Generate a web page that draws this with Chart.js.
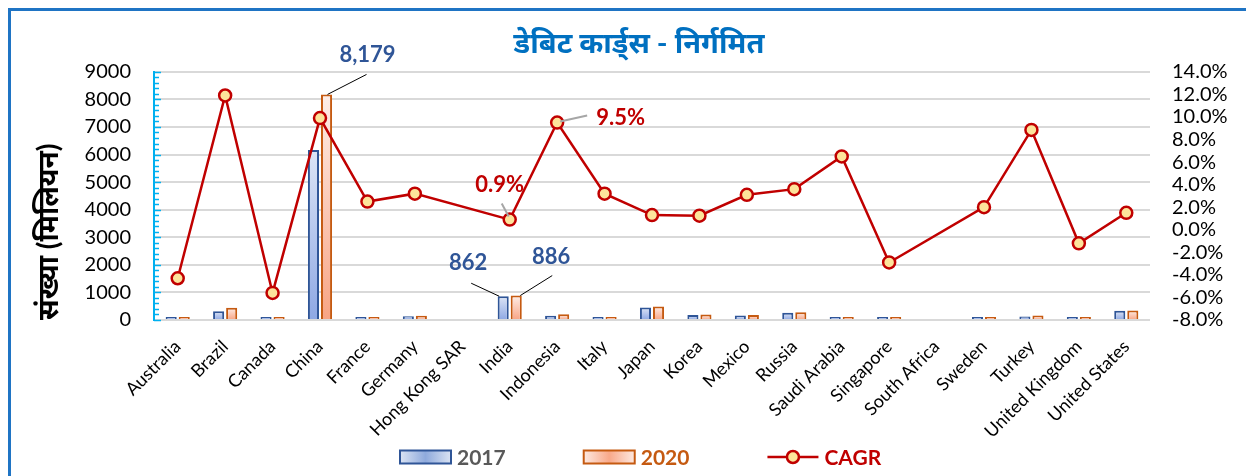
<!DOCTYPE html>
<html>
<head>
<meta charset="utf-8">
<script src="https://cdn.jsdelivr.net/npm/chart.js@4.4.0/dist/chart.umd.min.js"></script>
<style>
  html, body { margin: 0; padding: 0; background: #fff; }
  #wrap { position: relative; width: 1246px; height: 476px; overflow: hidden; }
  #frame {
    position: absolute; left: 8px; top: 8px; width: 1300px; height: 500px;
    border-left: 3px solid #1f74c4; border-top: 3px solid #1f74c4;
  }
  canvas { position: absolute; left: 0; top: 0; }
</style>
</head>
<body>
<div id="wrap">
  <div id="frame"></div>
  <canvas id="chart" width="1246" height="476"></canvas>
</div>
<script>
// data
const countries = ["Australia", "Brazil", "Canada", "China", "France", "Germany",
  "Hong Kong SAR", "India", "Indonesia", "Italy", "Japan", "Korea", "Mexico",
  "Russia", "Saudi Arabia", "Singapore", "South Africa", "Sweden", "Turkey",
  "United Kingdom", "United States"];
const cards2017 = [49, 321, 25, 6160, 62, 136, null, 862, 152, 74, 457, 185, 160,
  259, 45, 35, null, 35, 123, 111, 333];
const cards2020 = [40, 444, 25, 8179, 65, 150, null, 886, 205, 86, 494, 198, 185,
  284, 45, 35, null, 35, 160, 111, 346];
const cagr = [-4.3, 11.9, -5.6, 9.9, 2.5, 3.2, null, 0.9, 9.5, 3.2, 1.3, 1.25, 3.1,
  3.6, 6.5, -2.9, null, 2.0, 8.85, -1.2, 1.5];
const countTicks = { min: 0, max: 9000, step: 1000 };
const cagrTicks = { min: -8, max: 14, step: 2 };

const FONT = "Lato, 'Noto Sans', 'Noto Sans Devanagari', 'Lohit Devanagari', FreeSans, sans-serif";
Chart.defaults.font.family = FONT;

const fmtCount = (v) => v.toLocaleString("en-US");
const fmtPct = (v) => v.toFixed(1) + "%";

// vertical gradient per bar, light at the top
function barFill(light, dark) {
  return (c) => {
    const chart = c.chart;
    if (!chart.chartArea || c.type !== "data" || c.raw == null) return dark;
    const y = chart.scales.y;
    const top = Math.min(y.getPixelForValue(c.raw), y.getPixelForValue(0) - 5);
    const bottom = y.getPixelForValue(0);
    const g = chart.ctx.createLinearGradient(0, top, 0, bottom);
    g.addColorStop(0, light);
    g.addColorStop(1, dark);
    return g;
  };
}

// callouts: which mark, and how the label sits next to it
const callouts = [
  { ds: 1, i: 3, text: fmtCount(cards2020[3]), color: "#2f5597", line: "#000", lw: 1, from: [1, 0], to: [40, -20], at: [41, -40], align: "center" },
  { ds: 0, i: 7, text: fmtCount(cards2017[7]), color: "#2f5597", line: "#000", lw: 1, from: [-4, 0], to: [-32, -13], at: [-35, -33], align: "center" },
  { ds: 1, i: 7, text: fmtCount(cards2020[7]), color: "#2f5597", line: "#000", lw: 1, from: [4, 0], to: [36, -20], at: [35, -39], align: "center" },
  { ds: 2, i: 7, text: fmtPct(cagr[7]), color: "#c00000", line: "#a6a6a6", lw: 2, from: [-1, -3], to: [-8, -16], at: [-10, -35], align: "center" },
  { ds: 2, i: 8, text: fmtPct(cagr[8]), color: "#c00000", line: "#a6a6a6", lw: 2, from: [3, -1], to: [30, -7], at: [39, -5], align: "left" },
];

const calloutPlugin = {
  id: "callouts",
  afterDatasetsDraw(chart) {
    const ctx = chart.ctx;
    ctx.save();
    callouts.forEach((c) => {
      const el = chart.getDatasetMeta(c.ds).data[c.i];
      if (!el) return;
      ctx.strokeStyle = c.line;
      ctx.lineWidth = c.lw;
      ctx.beginPath();
      ctx.moveTo(el.x + c.from[0], el.y + c.from[1]);
      ctx.lineTo(el.x + c.to[0], el.y + c.to[1]);
      ctx.stroke();
      ctx.fillStyle = c.color;
      ctx.font = "bold 22px " + FONT;
      ctx.textAlign = c.align;
      ctx.textBaseline = "middle";
      ctx.fillText(c.text, el.x + c.at[0], el.y + c.at[1]);
    });
    ctx.restore();
  },
};

// small cyan tick marks along the left axis
const minorTicks = {
  id: "minorTicks",
  afterDraw(chart) {
    const y = chart.scales.y;
    const ctx = chart.ctx;
    const left = chart.chartArea.left;
    ctx.save();
    ctx.strokeStyle = "#00b0f0";
    ctx.lineWidth = 1.5;
    for (let v = countTicks.min; v <= countTicks.max; v += countTicks.step / 5) {
      const py = Math.round(y.getPixelForValue(v)) + 0.5;
      ctx.beginPath();
      ctx.moveTo(left, py);
      ctx.lineTo(left + (v % countTicks.step === 0 ? 7 : 5), py);
      ctx.stroke();
    }
    ctx.restore();
  },
};

// legend drawn under the x labels
const legendStyle = { x: 400, y: 457, box: 51, boxH: 13, gap: 6, spacing: 78 };
const legendPlugin = {
  id: "bottomLegend",
  afterDraw(chart) {
    const ctx = chart.ctx;
    const s = legendStyle;
    const items = [
      { ds: 0, kind: "bar", mid: "#8faadc", edge: "#dae3f3", textColor: "#595959" },
      { ds: 1, kind: "bar", mid: "#f8a98a", edge: "#fde9e1", textColor: "#c55a11" },
      { ds: 2, kind: "line", textColor: "#c00000" },
    ];
    let x = s.x;
    ctx.save();
    ctx.font = "bold 21px " + FONT;
    ctx.textBaseline = "middle";
    ctx.textAlign = "left";
    items.forEach((it) => {
      const d = chart.data.datasets[it.ds];
      if (it.kind === "bar") {
        const g = ctx.createLinearGradient(x, 0, x + s.box, 0);
        g.addColorStop(0, it.edge);
        g.addColorStop(0.5, it.mid);
        g.addColorStop(1, it.edge);
        ctx.fillStyle = g;
        ctx.fillRect(x, s.y - s.boxH / 2, s.box, s.boxH);
        ctx.strokeStyle = d.borderColor;
        ctx.lineWidth = 2;
        ctx.strokeRect(x, s.y - s.boxH / 2, s.box, s.boxH);
      } else {
        ctx.strokeStyle = d.borderColor;
        ctx.lineWidth = d.borderWidth;
        ctx.beginPath();
        ctx.moveTo(x, s.y);
        ctx.lineTo(x + s.box, s.y);
        ctx.stroke();
        ctx.beginPath();
        ctx.arc(x + s.box / 2, s.y, d.pointRadius, 0, Math.PI * 2);
        ctx.fillStyle = d.pointBackgroundColor;
        ctx.fill();
        ctx.lineWidth = d.pointBorderWidth;
        ctx.strokeStyle = d.pointBorderColor;
        ctx.stroke();
      }
      x += s.box + s.gap;
      ctx.fillStyle = it.textColor;
      ctx.fillText(d.label, x, s.y + 1);
      x += ctx.measureText(d.label).width + s.spacing;
    });
    ctx.restore();
  },
};

new Chart(document.getElementById("chart"), {
  type: "bar",
  data: {
    labels: countries,
    datasets: [
      {
        label: "2017",
        data: cards2017,
        yAxisID: "y",
        backgroundColor: barFill("#dde5f6", "#8ea8e4"),
        borderColor: "#2f5597",
        borderWidth: 2,
        minBarLength: 3,
        categoryPercentage: 0.55,
        barPercentage: 0.85,
        order: 1,
      },
      {
        label: "2020",
        data: cards2020,
        yAxisID: "y",
        backgroundColor: barFill("#feeee8", "#f8a484"),
        borderColor: "#c55a11",
        borderWidth: 2,
        minBarLength: 3,
        categoryPercentage: 0.55,
        barPercentage: 0.85,
        order: 1,
      },
      {
        type: "line",
        label: "CAGR",
        data: cagr,
        yAxisID: "yR",
        borderColor: "#c00000",
        borderWidth: 2.5,
        pointRadius: 6,
        pointHoverRadius: 6,
        pointBackgroundColor: "#fde49b",
        pointBorderColor: "#c00000",
        pointBorderWidth: 2.5,
        spanGaps: true,
        tension: 0,
        order: 0,
      },
    ],
  },
  options: {
    responsive: false,
    animation: false,
    layout: { padding: { left: 32, right: 0, top: 0, bottom: 16 } },
    plugins: {
      legend: { display: false },
      tooltip: { enabled: false },
      title: {
        display: true,
        text: "डेबिट कार्ड्स - निर्गमित",
        color: "#0070c0",
        font: { size: 29, weight: "bold" },
        padding: { top: 26, bottom: 11 },
      },
    },
    scales: {
      x: {
        grid: { display: false, drawTicks: false },
        border: { display: false },
        ticks: { color: "#000", font: { size: 18 }, minRotation: 45, maxRotation: 45, autoSkip: false, padding: 16 },
        afterFit(scale) { scale.height = 140; },
      },
      y: {
        position: "left",
        min: countTicks.min,
        max: countTicks.max,
        ticks: { stepSize: countTicks.step, color: "#000", font: { size: 20 }, padding: 23, autoSkip: false, callback: (v) => String(v) },
        grid: { color: "#d9d9d9", lineWidth: 2, drawTicks: false },
        border: { display: true, color: "#00b0f0", width: 2 },
        title: {
          display: true,
          text: "संख्या (मिलियन)",
          align: "start",
          color: "#000",
          font: { size: 28, weight: "bold" },
          padding: { top: 0, bottom: 0 },
        },
        afterFit(scale) { scale.width = 122; },
      },
      yR: {
        position: "right",
        min: cagrTicks.min,
        max: cagrTicks.max,
        ticks: { stepSize: cagrTicks.step, color: "#000", font: { size: 20 }, padding: 22, autoSkip: false, callback: (v) => fmtPct(v) },
        grid: { display: false, drawTicks: false },
        border: { display: false },
        afterFit(scale) { scale.width = 96; },
      },
    },
  },
  plugins: [calloutPlugin, minorTicks, legendPlugin],
});
</script>
</body>
</html>
